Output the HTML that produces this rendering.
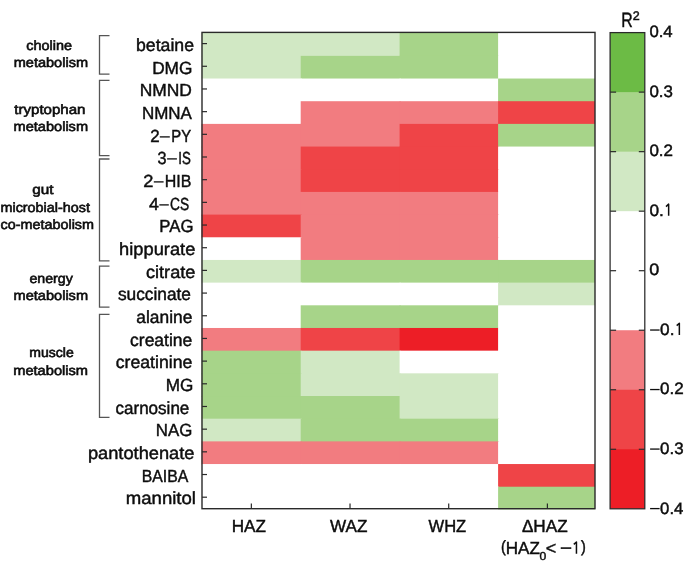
<!DOCTYPE html><html><head><meta charset="utf-8"><style>html,body{margin:0;padding:0;background:#fff;}svg{display:block;will-change:transform;}text{font-family:"Liberation Sans",sans-serif;fill:#0d0d0d;stroke:#0d0d0d;stroke-width:0.45px;text-rendering:geometricPrecision;}</style></head><body>
<svg width="685" height="562" viewBox="0 0 685 562">
<rect x="0" y="0" width="685" height="562" fill="#fff"/>
<rect x="201.50" y="32.50" width="100.20" height="24.36" fill="#d1e8c4"/>
<rect x="300.70" y="32.50" width="99.90" height="24.36" fill="#d1e8c4"/>
<rect x="399.60" y="32.50" width="99.50" height="24.36" fill="#a7d489"/>
<rect x="498.10" y="32.50" width="96.90" height="24.36" fill="#fff"/>
<rect x="201.50" y="55.86" width="100.20" height="23.68" fill="#d1e8c4"/>
<rect x="300.70" y="55.86" width="99.90" height="23.68" fill="#a7d489"/>
<rect x="399.60" y="55.86" width="99.50" height="23.68" fill="#a7d489"/>
<rect x="498.10" y="55.86" width="96.90" height="23.68" fill="#fff"/>
<rect x="201.50" y="78.53" width="100.20" height="23.68" fill="#fff"/>
<rect x="300.70" y="78.53" width="99.90" height="23.68" fill="#fff"/>
<rect x="399.60" y="78.53" width="99.50" height="23.68" fill="#fff"/>
<rect x="498.10" y="78.53" width="96.90" height="23.68" fill="#a7d489"/>
<rect x="201.50" y="101.21" width="100.20" height="23.68" fill="#fff"/>
<rect x="300.70" y="101.21" width="99.90" height="23.68" fill="#f27c80"/>
<rect x="399.60" y="101.21" width="99.50" height="23.68" fill="#f27c80"/>
<rect x="498.10" y="101.21" width="96.90" height="23.68" fill="#ef4447"/>
<rect x="201.50" y="123.89" width="100.20" height="23.68" fill="#f27c80"/>
<rect x="300.70" y="123.89" width="99.90" height="23.68" fill="#f27c80"/>
<rect x="399.60" y="123.89" width="99.50" height="23.68" fill="#ef4447"/>
<rect x="498.10" y="123.89" width="96.90" height="23.68" fill="#a7d489"/>
<rect x="201.50" y="146.56" width="100.20" height="23.68" fill="#f27c80"/>
<rect x="300.70" y="146.56" width="99.90" height="23.68" fill="#ef4447"/>
<rect x="399.60" y="146.56" width="99.50" height="23.68" fill="#ef4447"/>
<rect x="498.10" y="146.56" width="96.90" height="23.68" fill="#fff"/>
<rect x="201.50" y="169.24" width="100.20" height="23.68" fill="#f27c80"/>
<rect x="300.70" y="169.24" width="99.90" height="23.68" fill="#ef4447"/>
<rect x="399.60" y="169.24" width="99.50" height="23.68" fill="#ef4447"/>
<rect x="498.10" y="169.24" width="96.90" height="23.68" fill="#fff"/>
<rect x="201.50" y="191.92" width="100.20" height="23.68" fill="#f27c80"/>
<rect x="300.70" y="191.92" width="99.90" height="23.68" fill="#f27c80"/>
<rect x="399.60" y="191.92" width="99.50" height="23.68" fill="#f27c80"/>
<rect x="498.10" y="191.92" width="96.90" height="23.68" fill="#fff"/>
<rect x="201.50" y="214.60" width="100.20" height="23.68" fill="#ef4447"/>
<rect x="300.70" y="214.60" width="99.90" height="23.68" fill="#f27c80"/>
<rect x="399.60" y="214.60" width="99.50" height="23.68" fill="#f27c80"/>
<rect x="498.10" y="214.60" width="96.90" height="23.68" fill="#fff"/>
<rect x="201.50" y="237.27" width="100.20" height="23.68" fill="#fff"/>
<rect x="300.70" y="237.27" width="99.90" height="23.68" fill="#f27c80"/>
<rect x="399.60" y="237.27" width="99.50" height="23.68" fill="#f27c80"/>
<rect x="498.10" y="237.27" width="96.90" height="23.68" fill="#fff"/>
<rect x="201.50" y="259.95" width="100.20" height="23.68" fill="#d1e8c4"/>
<rect x="300.70" y="259.95" width="99.90" height="23.68" fill="#a7d489"/>
<rect x="399.60" y="259.95" width="99.50" height="23.68" fill="#a7d489"/>
<rect x="498.10" y="259.95" width="96.90" height="23.68" fill="#a7d489"/>
<rect x="201.50" y="282.63" width="100.20" height="23.68" fill="#fff"/>
<rect x="300.70" y="282.63" width="99.90" height="23.68" fill="#fff"/>
<rect x="399.60" y="282.63" width="99.50" height="23.68" fill="#fff"/>
<rect x="498.10" y="282.63" width="96.90" height="23.68" fill="#d1e8c4"/>
<rect x="201.50" y="305.30" width="100.20" height="23.68" fill="#fff"/>
<rect x="300.70" y="305.30" width="99.90" height="23.68" fill="#a7d489"/>
<rect x="399.60" y="305.30" width="99.50" height="23.68" fill="#a7d489"/>
<rect x="498.10" y="305.30" width="96.90" height="23.68" fill="#fff"/>
<rect x="201.50" y="327.98" width="100.20" height="23.68" fill="#f27c80"/>
<rect x="300.70" y="327.98" width="99.90" height="23.68" fill="#ef4447"/>
<rect x="399.60" y="327.98" width="99.50" height="23.68" fill="#ed1e26"/>
<rect x="498.10" y="327.98" width="96.90" height="23.68" fill="#fff"/>
<rect x="201.50" y="350.66" width="100.20" height="23.68" fill="#a7d489"/>
<rect x="300.70" y="350.66" width="99.90" height="23.68" fill="#d1e8c4"/>
<rect x="399.60" y="350.66" width="99.50" height="23.68" fill="#fff"/>
<rect x="498.10" y="350.66" width="96.90" height="23.68" fill="#fff"/>
<rect x="201.50" y="373.33" width="100.20" height="23.68" fill="#a7d489"/>
<rect x="300.70" y="373.33" width="99.90" height="23.68" fill="#d1e8c4"/>
<rect x="399.60" y="373.33" width="99.50" height="23.68" fill="#d1e8c4"/>
<rect x="498.10" y="373.33" width="96.90" height="23.68" fill="#fff"/>
<rect x="201.50" y="396.01" width="100.20" height="23.68" fill="#a7d489"/>
<rect x="300.70" y="396.01" width="99.90" height="23.68" fill="#a7d489"/>
<rect x="399.60" y="396.01" width="99.50" height="23.68" fill="#d1e8c4"/>
<rect x="498.10" y="396.01" width="96.90" height="23.68" fill="#fff"/>
<rect x="201.50" y="418.69" width="100.20" height="23.68" fill="#d1e8c4"/>
<rect x="300.70" y="418.69" width="99.90" height="23.68" fill="#a7d489"/>
<rect x="399.60" y="418.69" width="99.50" height="23.68" fill="#a7d489"/>
<rect x="498.10" y="418.69" width="96.90" height="23.68" fill="#fff"/>
<rect x="201.50" y="441.37" width="100.20" height="23.68" fill="#f27c80"/>
<rect x="300.70" y="441.37" width="99.90" height="23.68" fill="#f27c80"/>
<rect x="399.60" y="441.37" width="99.50" height="23.68" fill="#f27c80"/>
<rect x="498.10" y="441.37" width="96.90" height="23.68" fill="#fff"/>
<rect x="201.50" y="464.04" width="100.20" height="23.68" fill="#fff"/>
<rect x="300.70" y="464.04" width="99.90" height="23.68" fill="#fff"/>
<rect x="399.60" y="464.04" width="99.50" height="23.68" fill="#fff"/>
<rect x="498.10" y="464.04" width="96.90" height="23.68" fill="#ef4447"/>
<rect x="201.50" y="486.72" width="100.20" height="22.68" fill="#fff"/>
<rect x="300.70" y="486.72" width="99.90" height="22.68" fill="#fff"/>
<rect x="399.60" y="486.72" width="99.50" height="22.68" fill="#fff"/>
<rect x="498.10" y="486.72" width="96.90" height="22.68" fill="#a7d489"/>
<rect x="202" y="32.4" width="393" height="476.3" fill="none" stroke="#2a2a2a" stroke-width="1.4"/>
<line x1="202" y1="43.60" x2="207" y2="43.60" stroke="#2a2a2a" stroke-width="1.2"/>
<line x1="202" y1="66.28" x2="207" y2="66.28" stroke="#2a2a2a" stroke-width="1.2"/>
<line x1="202" y1="88.96" x2="207" y2="88.96" stroke="#2a2a2a" stroke-width="1.2"/>
<line x1="202" y1="111.64" x2="207" y2="111.64" stroke="#2a2a2a" stroke-width="1.2"/>
<line x1="202" y1="134.32" x2="207" y2="134.32" stroke="#2a2a2a" stroke-width="1.2"/>
<line x1="202" y1="157.00" x2="207" y2="157.00" stroke="#2a2a2a" stroke-width="1.2"/>
<line x1="202" y1="179.68" x2="207" y2="179.68" stroke="#2a2a2a" stroke-width="1.2"/>
<line x1="202" y1="202.36" x2="207" y2="202.36" stroke="#2a2a2a" stroke-width="1.2"/>
<line x1="202" y1="225.04" x2="207" y2="225.04" stroke="#2a2a2a" stroke-width="1.2"/>
<line x1="202" y1="247.72" x2="207" y2="247.72" stroke="#2a2a2a" stroke-width="1.2"/>
<line x1="202" y1="270.40" x2="207" y2="270.40" stroke="#2a2a2a" stroke-width="1.2"/>
<line x1="202" y1="293.08" x2="207" y2="293.08" stroke="#2a2a2a" stroke-width="1.2"/>
<line x1="202" y1="315.76" x2="207" y2="315.76" stroke="#2a2a2a" stroke-width="1.2"/>
<line x1="202" y1="338.44" x2="207" y2="338.44" stroke="#2a2a2a" stroke-width="1.2"/>
<line x1="202" y1="361.12" x2="207" y2="361.12" stroke="#2a2a2a" stroke-width="1.2"/>
<line x1="202" y1="383.80" x2="207" y2="383.80" stroke="#2a2a2a" stroke-width="1.2"/>
<line x1="202" y1="406.48" x2="207" y2="406.48" stroke="#2a2a2a" stroke-width="1.2"/>
<line x1="202" y1="429.16" x2="207" y2="429.16" stroke="#2a2a2a" stroke-width="1.2"/>
<line x1="202" y1="451.84" x2="207" y2="451.84" stroke="#2a2a2a" stroke-width="1.2"/>
<line x1="202" y1="474.52" x2="207" y2="474.52" stroke="#2a2a2a" stroke-width="1.2"/>
<line x1="202" y1="497.20" x2="207" y2="497.20" stroke="#2a2a2a" stroke-width="1.2"/>
<line x1="251.35" y1="508.6" x2="251.35" y2="503.4" stroke="#2a2a2a" stroke-width="1.2"/>
<line x1="350.03" y1="508.6" x2="350.03" y2="503.4" stroke="#2a2a2a" stroke-width="1.2"/>
<line x1="448.71" y1="508.6" x2="448.71" y2="503.4" stroke="#2a2a2a" stroke-width="1.2"/>
<line x1="547.39" y1="508.6" x2="547.39" y2="503.4" stroke="#2a2a2a" stroke-width="1.2"/>
<rect x="610.10" y="32.60" width="34.70" height="60.52" fill="#6cbb45"/>
<rect x="610.10" y="92.12" width="34.70" height="60.53" fill="#a7d489"/>
<rect x="610.10" y="151.65" width="34.70" height="60.52" fill="#d1e8c4"/>
<rect x="610.10" y="211.17" width="34.70" height="60.53" fill="#fff"/>
<rect x="610.10" y="270.70" width="34.70" height="60.53" fill="#fff"/>
<rect x="610.10" y="330.23" width="34.70" height="60.52" fill="#f27c80"/>
<rect x="610.10" y="389.75" width="34.70" height="60.53" fill="#ef4447"/>
<rect x="610.10" y="449.28" width="34.70" height="59.52" fill="#ed1e26"/>
<rect x="610.10" y="32.60" width="34.70" height="476.20" fill="none" stroke="#2a2a2a" stroke-width="1.25"/>
<line x1="610.1" y1="92.12" x2="616.1" y2="92.12" stroke="#2a2a2a" stroke-width="1.2"/>
<line x1="638.8" y1="92.12" x2="644.8" y2="92.12" stroke="#2a2a2a" stroke-width="1.2"/>
<line x1="610.1" y1="151.65" x2="616.1" y2="151.65" stroke="#2a2a2a" stroke-width="1.2"/>
<line x1="638.8" y1="151.65" x2="644.8" y2="151.65" stroke="#2a2a2a" stroke-width="1.2"/>
<line x1="610.1" y1="211.17" x2="616.1" y2="211.17" stroke="#2a2a2a" stroke-width="1.2"/>
<line x1="638.8" y1="211.17" x2="644.8" y2="211.17" stroke="#2a2a2a" stroke-width="1.2"/>
<line x1="610.1" y1="270.70" x2="616.1" y2="270.70" stroke="#2a2a2a" stroke-width="1.2"/>
<line x1="638.8" y1="270.70" x2="644.8" y2="270.70" stroke="#2a2a2a" stroke-width="1.2"/>
<line x1="610.1" y1="330.23" x2="616.1" y2="330.23" stroke="#2a2a2a" stroke-width="1.2"/>
<line x1="638.8" y1="330.23" x2="644.8" y2="330.23" stroke="#2a2a2a" stroke-width="1.2"/>
<line x1="610.1" y1="389.75" x2="616.1" y2="389.75" stroke="#2a2a2a" stroke-width="1.2"/>
<line x1="638.8" y1="389.75" x2="644.8" y2="389.75" stroke="#2a2a2a" stroke-width="1.2"/>
<line x1="610.1" y1="449.28" x2="616.1" y2="449.28" stroke="#2a2a2a" stroke-width="1.2"/>
<line x1="638.8" y1="449.28" x2="644.8" y2="449.28" stroke="#2a2a2a" stroke-width="1.2"/>
<text x="649.43" y="37.30" font-size="16.5" textLength="23.23" lengthAdjust="spacingAndGlyphs">0.4</text>
<text x="649.42" y="96.83" font-size="16.5" textLength="23.50" lengthAdjust="spacingAndGlyphs">0.3</text>
<text x="649.42" y="156.35" font-size="16.5" textLength="23.63" lengthAdjust="spacingAndGlyphs">0.2</text>
<text x="649.41" y="215.87" font-size="16.5" textLength="14.37" lengthAdjust="spacingAndGlyphs">0.</text>
<path d="M666.00 206.57 L668.65 204.17 V215.87" fill="none" stroke="#0d0d0d" stroke-width="1.5" stroke-linejoin="round"/>
<text x="649.38" y="275.40" font-size="16.5" textLength="10.02" lengthAdjust="spacingAndGlyphs">0</text>
<rect x="650.1" y="329.38" width="9.5" height="1.3" fill="#0d0d0d"/>
<text x="660.11" y="334.93" font-size="16.5" textLength="14.37" lengthAdjust="spacingAndGlyphs">0.</text>
<path d="M676.70 325.63 L679.35 323.23 V334.93" fill="none" stroke="#0d0d0d" stroke-width="1.5" stroke-linejoin="round"/>
<rect x="650.1" y="388.90" width="9.5" height="1.3" fill="#0d0d0d"/>
<text x="660.12" y="394.45" font-size="16.5" textLength="23.63" lengthAdjust="spacingAndGlyphs">0.2</text>
<rect x="650.1" y="448.43" width="9.5" height="1.3" fill="#0d0d0d"/>
<text x="660.12" y="453.98" font-size="16.5" textLength="23.50" lengthAdjust="spacingAndGlyphs">0.3</text>
<rect x="650.1" y="507.95" width="9.5" height="1.3" fill="#0d0d0d"/>
<text x="660.13" y="513.50" font-size="16.5" textLength="23.23" lengthAdjust="spacingAndGlyphs">0.4</text>
<text x="621.19" y="26.50" font-size="20.6" textLength="11.46" lengthAdjust="spacingAndGlyphs">R</text>
<text x="632.67" y="19.60" font-size="12.5" textLength="6.97" lengthAdjust="spacingAndGlyphs">2</text>
<text x="136.05" y="51.02" font-size="17.5" textLength="57.91" lengthAdjust="spacingAndGlyphs">betaine</text>
<text x="152.18" y="73.69" font-size="17.5" textLength="40.22" lengthAdjust="spacingAndGlyphs">DMG</text>
<text x="139.66" y="96.36" font-size="17.5" textLength="52.26" lengthAdjust="spacingAndGlyphs">NMND</text>
<text x="141.90" y="119.02" font-size="17.5" textLength="50.03" lengthAdjust="spacingAndGlyphs">NMNA</text>
<text x="150.15" y="141.69" font-size="17.5" textLength="9.41" lengthAdjust="spacingAndGlyphs">2</text>
<rect x="159.80" y="136.25" width="10.00" height="1.3" fill="#0d0d0d"/>
<text x="171.27" y="141.69" font-size="17.5" textLength="19.85" lengthAdjust="spacingAndGlyphs">PY</text>
<text x="157.49" y="164.36" font-size="17.5" textLength="9.02" lengthAdjust="spacingAndGlyphs">3</text>
<rect x="167.10" y="158.25" width="9.80" height="1.3" fill="#0d0d0d"/>
<text x="178.37" y="164.36" font-size="17.5" textLength="12.56" lengthAdjust="spacingAndGlyphs">IS</text>
<text x="143.39" y="187.03" font-size="17.5" textLength="10.15" lengthAdjust="spacingAndGlyphs">2</text>
<rect x="153.80" y="181.25" width="9.80" height="1.3" fill="#0d0d0d"/>
<text x="164.68" y="187.03" font-size="17.5" textLength="26.65" lengthAdjust="spacingAndGlyphs">HIB</text>
<text x="149.10" y="209.69" font-size="17.5" textLength="9.91" lengthAdjust="spacingAndGlyphs">4</text>
<rect x="159.30" y="204.25" width="9.50" height="1.3" fill="#0d0d0d"/>
<text x="170.01" y="209.69" font-size="17.5" textLength="19.13" lengthAdjust="spacingAndGlyphs">CS</text>
<text x="159.32" y="232.36" font-size="17.5" textLength="34.14" lengthAdjust="spacingAndGlyphs">PAG</text>
<text x="119.12" y="255.03" font-size="17.5" textLength="76.26" lengthAdjust="spacingAndGlyphs">hippurate</text>
<text x="145.93" y="277.69" font-size="17.5" textLength="49.46" lengthAdjust="spacingAndGlyphs">citrate</text>
<text x="117.92" y="300.36" font-size="17.5" textLength="73.05" lengthAdjust="spacingAndGlyphs">succinate</text>
<text x="136.36" y="323.03" font-size="17.5" textLength="55.98" lengthAdjust="spacingAndGlyphs">alanine</text>
<text x="130.06" y="345.70" font-size="17.5" textLength="62.29" lengthAdjust="spacingAndGlyphs">creatine</text>
<text x="115.75" y="368.37" font-size="17.5" textLength="76.62" lengthAdjust="spacingAndGlyphs">creatinine</text>
<text x="165.69" y="391.03" font-size="17.5" textLength="27.61" lengthAdjust="spacingAndGlyphs">MG</text>
<text x="115.48" y="413.70" font-size="17.5" textLength="73.87" lengthAdjust="spacingAndGlyphs">carnosine</text>
<text x="155.81" y="436.37" font-size="17.5" textLength="36.44" lengthAdjust="spacingAndGlyphs">NAG</text>
<text x="87.91" y="459.03" font-size="17.5" textLength="106.59" lengthAdjust="spacingAndGlyphs">pantothenate</text>
<text x="141.69" y="481.70" font-size="17.5" textLength="46.62" lengthAdjust="spacingAndGlyphs">BAIBA</text>
<text x="125.75" y="504.37" font-size="17.5" textLength="70.21" lengthAdjust="spacingAndGlyphs">mannitol</text>
<text x="26.29" y="49.50" font-size="13.5" textLength="45.65" lengthAdjust="spacingAndGlyphs" style="stroke-width:0.6px">choline</text>
<text x="13.72" y="67.30" font-size="13.5" textLength="74.33" lengthAdjust="spacingAndGlyphs" style="stroke-width:0.6px">metabolism</text>
<text x="14.27" y="113.80" font-size="13.5" textLength="71.22" lengthAdjust="spacingAndGlyphs" style="stroke-width:0.6px">tryptophan</text>
<text x="13.52" y="131.40" font-size="13.5" textLength="74.54" lengthAdjust="spacingAndGlyphs" style="stroke-width:0.6px">metabolism</text>
<text x="32.15" y="194.10" font-size="13.5" textLength="21.27" lengthAdjust="spacingAndGlyphs" style="stroke-width:0.6px">gut</text>
<text x="0.53" y="211.70" font-size="13.5" textLength="89.37" lengthAdjust="spacingAndGlyphs" style="stroke-width:0.6px">microbial-host</text>
<text x="0.59" y="228.90" font-size="13.5" textLength="93.44" lengthAdjust="spacingAndGlyphs" style="stroke-width:0.6px">co-metabolism</text>
<text x="29.40" y="283.00" font-size="13.5" textLength="43.34" lengthAdjust="spacingAndGlyphs" style="stroke-width:0.6px">energy</text>
<text x="13.52" y="300.40" font-size="13.5" textLength="74.54" lengthAdjust="spacingAndGlyphs" style="stroke-width:0.6px">metabolism</text>
<text x="29.25" y="357.10" font-size="13.5" textLength="44.44" lengthAdjust="spacingAndGlyphs" style="stroke-width:0.6px">muscle</text>
<text x="13.21" y="374.60" font-size="13.5" textLength="74.85" lengthAdjust="spacingAndGlyphs" style="stroke-width:0.6px">metabolism</text>
<path d="M109.5 35.7 H99.5 V74.2 H109.5" fill="none" stroke="#555" stroke-width="1.3"/>
<path d="M109.5 80.3 H99.5 V155.7 H109.5" fill="none" stroke="#555" stroke-width="1.3"/>
<path d="M109.5 159.0 H99.5 V260.8 H109.5" fill="none" stroke="#555" stroke-width="1.3"/>
<path d="M109.5 266.2 H99.5 V307.2 H109.5" fill="none" stroke="#555" stroke-width="1.3"/>
<path d="M109.5 314.4 H99.5 V417.4 H109.5" fill="none" stroke="#555" stroke-width="1.3"/>
<text x="231.68" y="531.50" font-size="17.5" textLength="34.33" lengthAdjust="spacingAndGlyphs">HAZ</text>
<text x="330.01" y="531.50" font-size="17.5" textLength="37.39" lengthAdjust="spacingAndGlyphs">WAZ</text>
<text x="428.52" y="531.50" font-size="17.5" textLength="37.71" lengthAdjust="spacingAndGlyphs">WHZ</text>
<text x="521.89" y="531.50" font-size="17.5" textLength="45.74" lengthAdjust="spacingAndGlyphs">ΔHAZ</text>
<text x="505.69" y="553.60" font-size="17.5" textLength="34.12" lengthAdjust="spacingAndGlyphs">HAZ</text>
<text x="545.70" y="553.60" font-size="17.5" textLength="10.48" lengthAdjust="spacingAndGlyphs">&lt;</text>
<text x="559.97" y="553.60" font-size="17.5" textLength="12.04" lengthAdjust="spacingAndGlyphs">−</text>
<text x="539.41" y="559.70" font-size="11.5" textLength="6.76" lengthAdjust="spacingAndGlyphs">0</text>
<text x="500.90" y="552.40" font-size="16.2" textLength="4.82" lengthAdjust="spacingAndGlyphs">(</text>
<text x="581.09" y="552.40" font-size="16.2" textLength="4.82" lengthAdjust="spacingAndGlyphs">)</text>
<path d="M573.80 544.40 L576.45 542.00 V553.70" fill="none" stroke="#0d0d0d" stroke-width="1.5" stroke-linejoin="round"/>
</svg></body></html>
